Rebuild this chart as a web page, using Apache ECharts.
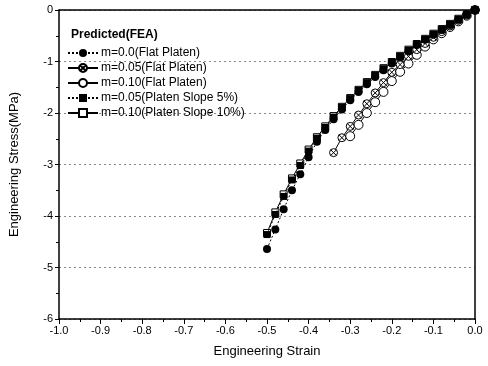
<!DOCTYPE html>
<html>
<head>
<meta charset="utf-8">
<script src="https://cdn.jsdelivr.net/npm/echarts@6/dist/echarts.min.js"></script>
<style>
  html, body { margin: 0; padding: 0; background: #fff; }
  #chart { width: 488px; height: 366px; }
</style>
</head>
<body>
<div id="chart"></div>
<script>
// strain values (x) for the two families of curves
var strainLong = [0, -0.02, -0.04, -0.06, -0.08, -0.10, -0.12, -0.14, -0.16, -0.18, -0.20, -0.22, -0.24,
  -0.26, -0.28, -0.30, -0.32, -0.34, -0.36, -0.38, -0.40, -0.42, -0.44, -0.46, -0.48, -0.50];
var strainCross = [0, -0.02, -0.04, -0.06, -0.08, -0.10, -0.12, -0.14, -0.16, -0.18, -0.20, -0.22, -0.24,
  -0.26, -0.28, -0.30, -0.32, -0.34];
var strainOpen = [0, -0.02, -0.04, -0.06, -0.08, -0.10, -0.12, -0.14, -0.16, -0.18, -0.20, -0.22, -0.24,
  -0.26, -0.28, -0.30];

// stress values (MPa)
var flat00 = [0, -0.09, -0.19, -0.29, -0.39, -0.48, -0.58, -0.68, -0.80, -0.92, -1.04, -1.17, -1.30,
  -1.44, -1.59, -1.75, -1.93, -2.12, -2.33, -2.56, -2.86, -3.19, -3.50, -3.87, -4.26, -4.64];
var flat005 = [0, -0.10, -0.20, -0.31, -0.42, -0.53, -0.65, -0.77, -0.90, -1.06, -1.21, -1.41, -1.61,
  -1.82, -2.04, -2.26, -2.48, -2.77];
var flat010 = [0, -0.11, -0.22, -0.33, -0.45, -0.57, -0.71, -0.87, -1.04, -1.20, -1.38, -1.59, -1.79,
  -2.00, -2.23, -2.45];
var slope5 = [0, -0.09, -0.18, -0.28, -0.38, -0.47, -0.57, -0.67, -0.78, -0.90, -1.02, -1.14, -1.27,
  -1.41, -1.56, -1.72, -1.89, -2.08, -2.28, -2.49, -2.74, -3.02, -3.30, -3.62, -3.97, -4.36];
var slope10 = [0, -0.08, -0.17, -0.27, -0.37, -0.46, -0.56, -0.66, -0.77, -0.89, -1.01, -1.13, -1.26,
  -1.40, -1.55, -1.71, -1.88, -2.06, -2.26, -2.47, -2.71, -2.98, -3.27, -3.58, -3.93, -4.33];

var xTicks = ['-1.0', '-0.9', '-0.8', '-0.7', '-0.6', '-0.5', '-0.4', '-0.3', '-0.2', '-0.1', '0.0'];
var seriesNames = ['m=0.0(Flat Platen)', 'm=0.05(Flat Platen)', 'm=0.10(Flat Platen)',
  'm=0.05(Platen Slope 5%)', 'm=0.10(Platen Slope 10%)'];

function pairs(xs, ys) {
  var out = [];
  for (var i = 0; i < ys.length; i++) out.push([xs[i], ys[i]]);
  return out;
}

var crossCircle = 'path://M0,-10A10,10 0 1,1 0,10A10,10 0 1,1 0,-10Z M-7,-7L7,7 M7,-7L-7,7';
var font = '"Liberation Sans", Arial, sans-serif';

var myChart = echarts.init(document.getElementById('chart'));

var option = {
  animation: false,
  backgroundColor: '#fff',
  title: {
    text: 'Predicted(FEA)',
    left: 66,
    top: 24,
    textStyle: { fontFamily: font, fontSize: 12, fontWeight: 'bold', color: '#000' }
  },
  legend: {
    orient: 'vertical',
    left: 67,
    top: 47,
    itemWidth: 30,
    itemHeight: 10,
    itemGap: 3,
    padding: 0,
    textStyle: { fontFamily: font, fontSize: 12, color: '#000', padding: [0, 0, 0, -2] },
    data: seriesNames
  },
  grid: { left: 58, right: 13, top: 10, bottom: 47 },
  xAxis: [{
    type: 'value',
    min: -1,
    max: 0,
    interval: 0.1,
    name: 'Engineering Strain',
    nameLocation: 'middle',
    nameGap: 26,
    nameTextStyle: { fontFamily: font, fontSize: 13, color: '#000' },
    axisLine: { onZero: false, lineStyle: { color: '#000', width: 1.5 } },
    axisTick: { inside: false, length: 5, lineStyle: { color: '#000' } },
    minorTick: { show: true, splitNumber: 2, length: 3, lineStyle: { color: '#000' } },
    axisLabel: {
      fontFamily: font, fontSize: 11, color: '#000', margin: 6,
      formatter: function (v) { return xTicks[Math.round((v + 1) * 10)]; }
    },
    splitLine: { show: false }
  }, {
    type: 'value',
    position: 'top',
    min: -1,
    max: 0,
    axisLine: { show: true, onZero: false, lineStyle: { color: '#000', width: 1.5 } },
    axisTick: { show: false },
    axisLabel: { show: false },
    splitLine: { show: false }
  }],
  yAxis: [{
    type: 'value',
    min: -6,
    max: 0,
    interval: 1,
    name: 'Engineering Stress(MPa)',
    nameLocation: 'middle',
    nameGap: 38,
    nameTextStyle: { fontFamily: font, fontSize: 13, color: '#000' },
    axisLine: { show: true, onZero: false, lineStyle: { color: '#000', width: 1.5 } },
    axisTick: { inside: false, length: 4, lineStyle: { color: '#000' } },
    minorTick: { show: true, splitNumber: 2, length: 3, lineStyle: { color: '#000' } },
    axisLabel: { fontFamily: font, fontSize: 11, color: '#000', margin: 6 },
    splitLine: { show: true, lineStyle: { color: '#888', type: [2, 3], width: 1 } }
  }, {
    type: 'value',
    position: 'right',
    min: -6,
    max: 0,
    axisLine: { show: true, onZero: false, lineStyle: { color: '#000', width: 1.5 } },
    axisTick: { show: false },
    axisLabel: { show: false },
    splitLine: { show: false }
  }],
  series: [{
    name: seriesNames[0],
    type: 'line',
    z: 4,
    data: pairs(strainLong, flat00),
    symbol: 'circle',
    symbolSize: 8,
    itemStyle: { color: '#000' },
    lineStyle: { color: '#000', width: 1, type: [2, 2] }
  }, {
    name: seriesNames[1],
    type: 'line',
    z: 3,
    data: pairs(strainCross, flat005),
    symbol: crossCircle,
    symbolSize: 8,
    itemStyle: { color: '#fff', borderColor: '#000', borderWidth: 1 },
    lineStyle: { color: '#000', width: 1 }
  }, {
    name: seriesNames[2],
    type: 'line',
    z: 2,
    data: pairs(strainOpen, flat010),
    symbol: 'circle',
    symbolSize: 9,
    itemStyle: { color: '#fff', borderColor: '#000', borderWidth: 1 },
    lineStyle: { color: '#000', width: 1 }
  }, {
    name: seriesNames[3],
    type: 'line',
    z: 4,
    data: pairs(strainLong, slope5),
    symbol: 'rect',
    symbolSize: 7,
    itemStyle: { color: '#000' },
    lineStyle: { color: '#000', width: 1, type: [2, 2] }
  }, {
    name: seriesNames[4],
    type: 'line',
    z: 2,
    data: pairs(strainLong, slope10),
    symbol: 'rect',
    symbolSize: 7,
    itemStyle: { color: '#fff', borderColor: '#000', borderWidth: 1 },
    lineStyle: { color: '#000', width: 1 }
  }]
};

myChart.setOption(option);
</script>
</body>
</html>
